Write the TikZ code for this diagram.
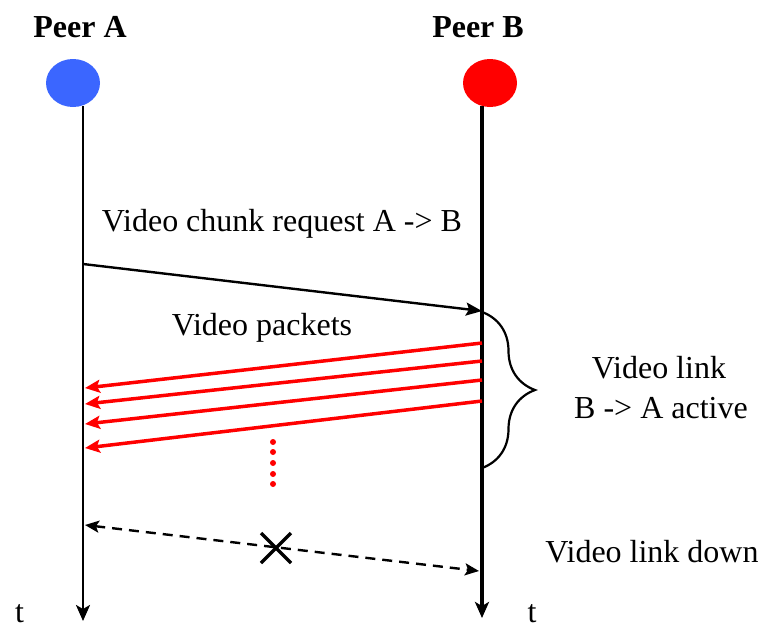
\documentclass[tikz,border=0pt]{standalone}
\usepackage{fontspec}
\setmainfont{Liberation Serif}
\usetikzlibrary{arrows.meta,shapes.geometric,decorations.pathreplacing,calc}

\definecolor{peerblue}{RGB}{59,102,255}
\definecolor{peerred}{RGB}{255,0,0}

\tikzset{
  lbl/.style={font=\fontsize{32}{38}\selectfont, inner sep=0pt, anchor=base},
  peerlbl/.style={font=\fontsize{32}{38}\selectfont\bfseries, inner sep=0pt, anchor=base},
  peerdot/.style={ellipse, minimum width=54pt, minimum height=48pt, inner sep=0pt, draw=none},
  lifeline/.style={draw=black, -{Stealth[length=16pt,width=14pt,inset=4pt]}},
  request/.style={draw=black, line width=2.4pt, -{Stealth[length=16pt,width=13pt,inset=3pt]}},
  packet/.style={draw=peerred, line width=3.5pt, -{Stealth[length=15pt,width=13pt,inset=3pt]}},
  lost/.style={draw=black, line width=2.4pt, dash pattern=on 10pt off 7pt,
               {Stealth[length=14pt,width=12pt,inset=3pt]}-{Stealth[length=14pt,width=12pt,inset=3pt]}},
  crossmark/.style={draw=black, line width=3.5pt},
  linkbrace/.style={draw=black, line width=2.2pt, decorate, decoration={brace, amplitude=53pt}},
  dotmark/.style={circle, fill=peerred, minimum size=6pt, inner sep=0pt},
}

\begin{document}
\begin{tikzpicture}[x=1pt, y=-1pt]
  \useasboundingbox (0,0) rectangle (768,627);

  % peers
  \node[peerlbl] (labA) at (80,37) {Peer A};
  \node[peerlbl] (labB) at (478,37) {Peer B};
  \node[peerdot, fill=peerblue] (pa) at (73,83) {};
  \node[peerdot, fill=peerred]  (pb) at (490,83) {};

  % time axes
  \coordinate (a0) at (83,106);
  \coordinate (a1) at (83,621);
  \coordinate (b0) at (482,106);
  \coordinate (b1) at (482,618);
  \draw[lifeline, line width=2.4pt] (a0) -- (a1);
  \draw[lifeline, line width=3.2pt] (b0) -- (b1);
  \node[lbl] (tA) at (19.5,622) {t};
  \node[lbl] (tB) at (532,622) {t};

  % chunk request
  \node[lbl] (reqlbl) at (282,231) {Video chunk request A -> B};
  \coordinate (r0) at (83,264);
  \coordinate (r1) at (482,311);
  \draw[request] (r0) -- (r1);

  % video packets
  \node[lbl] (pktlbl) at (262,335) {Video packets};
  \coordinate (p1s) at (482,343); \coordinate (p1e) at (85,388);
  \coordinate (p2s) at (482,361); \coordinate (p2e) at (85,404);
  \coordinate (p3s) at (482,380); \coordinate (p3e) at (85,424);
  \coordinate (p4s) at (482,401); \coordinate (p4e) at (85,448);
  \draw[packet] (p1s) -- (p1e);
  \draw[packet] (p2s) -- (p2e);
  \draw[packet] (p3s) -- (p3e);
  \draw[packet] (p4s) -- (p4e);
  \foreach \i/\yy in {1/442,2/452,3/463,4/474,5/484}
    \node[dotmark] (dot\i) at (273,\yy) {};

  % active link brace
  \coordinate (br0) at (482,312);
  \coordinate (br1) at (482,468);
  \draw[linkbrace] (br0) -- (br1);
  \node[lbl] (act1) at (659,378) {Video link};
  \node[lbl] (act2) at (661,418) {B -> A active};

  % link down
  \coordinate (d0) at (85,525);
  \coordinate (d1) at (479,571);
  \draw[lost] (d0) -- (d1);
  \coordinate (xc) at (276,548);
  \draw[crossmark] ($(xc)+(-15,-15)$) -- ($(xc)+(15,15)$);
  \draw[crossmark] ($(xc)+(15,-15)$) -- ($(xc)+(-15,15)$);
  \node[lbl] (downlbl) at (652,562) {Video link down};
\end{tikzpicture}
\end{document}
